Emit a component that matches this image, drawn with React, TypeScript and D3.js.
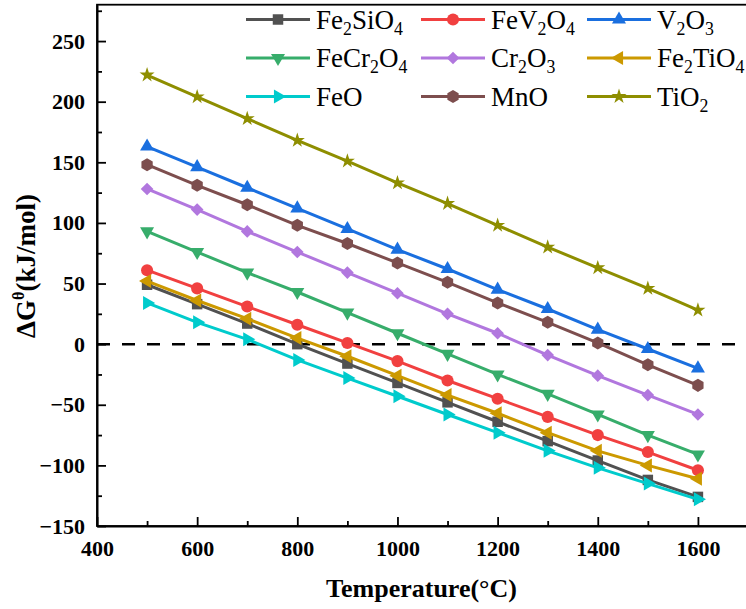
import React, { useEffect, useRef } from 'react';
import * as d3 from 'd3';

// temperature (°C)
const temps = [500, 600, 700, 800, 900, 1000, 1100, 1200, 1300, 1400, 1500, 1600];

// ΔG (kJ/mol) for each reaction
const Fe2SiO4 = [49, 33, 17, 0, -16, -32, -48, -64, -80, -96, -112, -126];
const FeV2O4 = [61, 46, 31, 16, 1, -14, -30, -45, -60, -75, -89, -104];
const V2O3 = [163, 146, 129, 112, 95, 78, 62, 45, 29, 12, -4, -20];
const FeCr2O4 = [93, 76, 59, 43, 26, 9, -8, -25, -41, -58, -75, -91];
const Cr2O3 = [128, 111, 93, 76, 59, 42, 25, 9, -9, -26, -42, -58];
const Fe2TiO4 = [52, 36, 21, 5, -10, -26, -42, -57, -73, -88, -100, -111];
const FeO = [34, 18, 4, -13, -28, -43, -58, -73, -88, -102, -115, -128];
const MnO = [148, 131, 115, 98, 83, 67, 51, 34, 18, 1, -17, -34];
const TiO2 = [222, 204, 186, 168, 151, 133, 116, 98, 80, 63, 46, 28];

const seriesNames = ['Fe2SiO4', 'FeV2O4', 'V2O3', 'FeCr2O4', 'Cr2O3', 'Fe2TiO4', 'FeO', 'MnO', 'TiO2'];
const seriesValues = [Fe2SiO4, FeV2O4, V2O3, FeCr2O4, Cr2O3, Fe2TiO4, FeO, MnO, TiO2];
const seriesColors = ['#515151', '#F14040', '#1A6FDF', '#37AD6B', '#B177DE', '#CC9900', '#00CBCC', '#7D4E4E', '#8E8E00'];

const xTicks = [400, 600, 800, 1000, 1200, 1400, 1600];
const xMinorTicks = [500, 700, 900, 1100, 1300, 1500];
const yTicks = [-150, -100, -50, 0, 50, 100, 150, 200, 250];
const yMinorTicks = [-125, -75, -25, 25, 75, 125, 175, 225, 275];

const FONT = "Liberation Serif, Times New Roman, serif";

// hexagon symbol for MnO
const symbolHexagon = {
    draw(context, size) {
        const r = Math.sqrt((2 * size) / (3 * Math.sqrt(3)));
        for (let i = 0; i < 6; i++) {
            const a = Math.PI / 6 + (i * Math.PI) / 3;
            const px = r * Math.cos(a);
            const py = r * Math.sin(a);
            if (i === 0) context.moveTo(px, py);
            else context.lineTo(px, py);
        }
        context.closePath();
    }
};

// marker type, area, rotation
const markers = [
    { type: d3.symbolSquare, size: 110, rot: 0 },
    { type: d3.symbolCircle, size: 115, rot: 0 },
    { type: d3.symbolTriangle, size: 85, rot: 0 },
    { type: d3.symbolTriangle, size: 85, rot: 180 },
    { type: d3.symbolSquare, size: 80, rot: 45 },
    { type: d3.symbolTriangle, size: 85, rot: -90 },
    { type: d3.symbolTriangle, size: 85, rot: 90 },
    { type: symbolHexagon, size: 110, rot: 0 },
    { type: d3.symbolStar, size: 70, rot: 0 }
];

// write a chemical formula with subscript digits
const addFormula = (textSel, label) => {
    const parts = label.match(/[0-9]+|[^0-9]+/g) || [];
    let shifted = false;
    parts.forEach(p => {
        const isSub = /^[0-9]+$/.test(p);
        const t = textSel.append('tspan').text(p);
        if (isSub && !shifted) {
            t.attr('dy', 6).attr('font-size', '0.66em');
            shifted = true;
        } else if (isSub) {
            t.attr('font-size', '0.66em');
        } else if (shifted) {
            t.attr('dy', -6);
            shifted = false;
        }
    });
};

const Chart = () => {
    const ref = useRef(null);

    useEffect(() => {
        const svg = d3.select(ref.current);
        svg.selectAll('*').remove();

        const left = 97, right = 748, top = 4.7, bottom = 526;

        const x = d3.scaleLinear().domain([400, 1700]).range([left, right]);
        const y = d3.scaleLinear().domain([-150, 280]).range([bottom, top]);

        // frame
        svg.append('rect')
            .attr('x', left).attr('y', top)
            .attr('width', right - left).attr('height', bottom - top)
            .attr('fill', 'none').attr('stroke', '#000').attr('stroke-width', 1.8);

        // zero line
        svg.append('line')
            .attr('x1', left).attr('x2', right)
            .attr('y1', y(0)).attr('y2', y(0))
            .attr('stroke', '#000').attr('stroke-width', 2.5)
            .attr('stroke-dasharray', '13,12');

        // axes
        const xAxis = svg.append('g')
            .attr('transform', `translate(0,${bottom})`)
            .call(d3.axisBottom(x).tickValues(xTicks).tickSize(-9).tickSizeOuter(0).tickPadding(14).tickFormat(d3.format('d')));
        svg.append('g')
            .attr('transform', `translate(0,${bottom})`)
            .call(d3.axisBottom(x).tickValues(xMinorTicks).tickSize(-5).tickSizeOuter(0).tickFormat(() => ''))
            .call(g => g.select('.domain').remove());

        const yAxis = svg.append('g')
            .attr('transform', `translate(${left},0)`)
            .call(d3.axisLeft(y).tickValues(yTicks).tickSize(-9).tickSizeOuter(0).tickPadding(12).tickFormat(d3.format('d')));
        svg.append('g')
            .attr('transform', `translate(${left},0)`)
            .call(d3.axisLeft(y).tickValues(yMinorTicks).tickSize(-5).tickSizeOuter(0).tickFormat(() => ''))
            .call(g => g.select('.domain').remove());

        [xAxis, yAxis].forEach(ax => {
            ax.attr('font-family', FONT).attr('font-size', 22).attr('font-weight', 'bold');
            ax.select('.domain').attr('stroke-width', 2);
            ax.selectAll('.tick text')
                .attr('font-family', FONT)
                .attr('font-size', 22)
                .attr('font-weight', 'bold')
                .attr('fill', '#000');
        });
        svg.selectAll('.tick line').attr('stroke-width', 1.8);

        // series
        const line = d3.line().x((d, i) => x(temps[i])).y(d => y(d));
        seriesValues.forEach((vals, si) => {
            const g = svg.append('g');
            g.append('path')
                .datum(vals)
                .attr('fill', 'none')
                .attr('stroke', seriesColors[si])
                .attr('stroke-width', 3)
                .attr('d', line);
            const m = markers[si];
            const sym = d3.symbol().type(m.type).size(m.size);
            g.selectAll('path.pt')
                .data(vals)
                .enter().append('path')
                .attr('class', 'pt')
                .attr('d', sym)
                .attr('fill', seriesColors[si])
                .attr('transform', (d, i) => `translate(${x(temps[i])},${y(d)}) rotate(${m.rot})`);
        });

        // legend
        const colX = [246, 421, 587];
        const rowY = [19.5, 58, 96.5];
        const lineLen = 64;
        seriesNames.forEach((name, si) => {
            const cx = colX[si % 3];
            const cy = rowY[Math.floor(si / 3)];
            const lg = svg.append('g');
            lg.append('line')
                .attr('x1', cx).attr('x2', cx + lineLen)
                .attr('y1', cy).attr('y2', cy)
                .attr('stroke', seriesColors[si]).attr('stroke-width', 3);
            const m = markers[si];
            lg.append('path')
                .attr('d', d3.symbol().type(m.type).size(m.size)())
                .attr('fill', seriesColors[si])
                .attr('transform', `translate(${cx + lineLen / 2},${cy}) rotate(${m.rot})`);
            const t = lg.append('text')
                .attr('x', cx + lineLen + 6)
                .attr('y', cy + 9)
                .attr('font-family', FONT)
                .attr('font-size', 27)
                .attr('fill', '#000');
            addFormula(t, name);
        });

        // axis titles
        svg.append('text')
            .attr('x', (left + 746) / 2)
            .attr('y', 597)
            .attr('text-anchor', 'middle')
            .attr('font-family', FONT)
            .attr('font-size', 26)
            .attr('font-weight', 'bold')
            .text('Temperature(°C)');

        const yt = svg.append('text')
            .attr('transform', 'translate(35,266) rotate(-90)')
            .attr('text-anchor', 'middle')
            .attr('font-family', FONT)
            .attr('font-size', 27)
            .attr('font-weight', 'bold');
        yt.append('tspan').text('ΔG');
        yt.append('tspan').attr('dy', -11).attr('font-size', 16).text('θ');
        yt.append('tspan').attr('dy', 11).text('(kJ/mol)');
    }, []);

    return (
        <svg
            ref={ref}
            width={746}
            height={609}
            style={{ position: 'absolute', left: 0, top: 0, background: '#fff' }}
        />
    );
};

export default function App() {
    return <Chart />;
}
